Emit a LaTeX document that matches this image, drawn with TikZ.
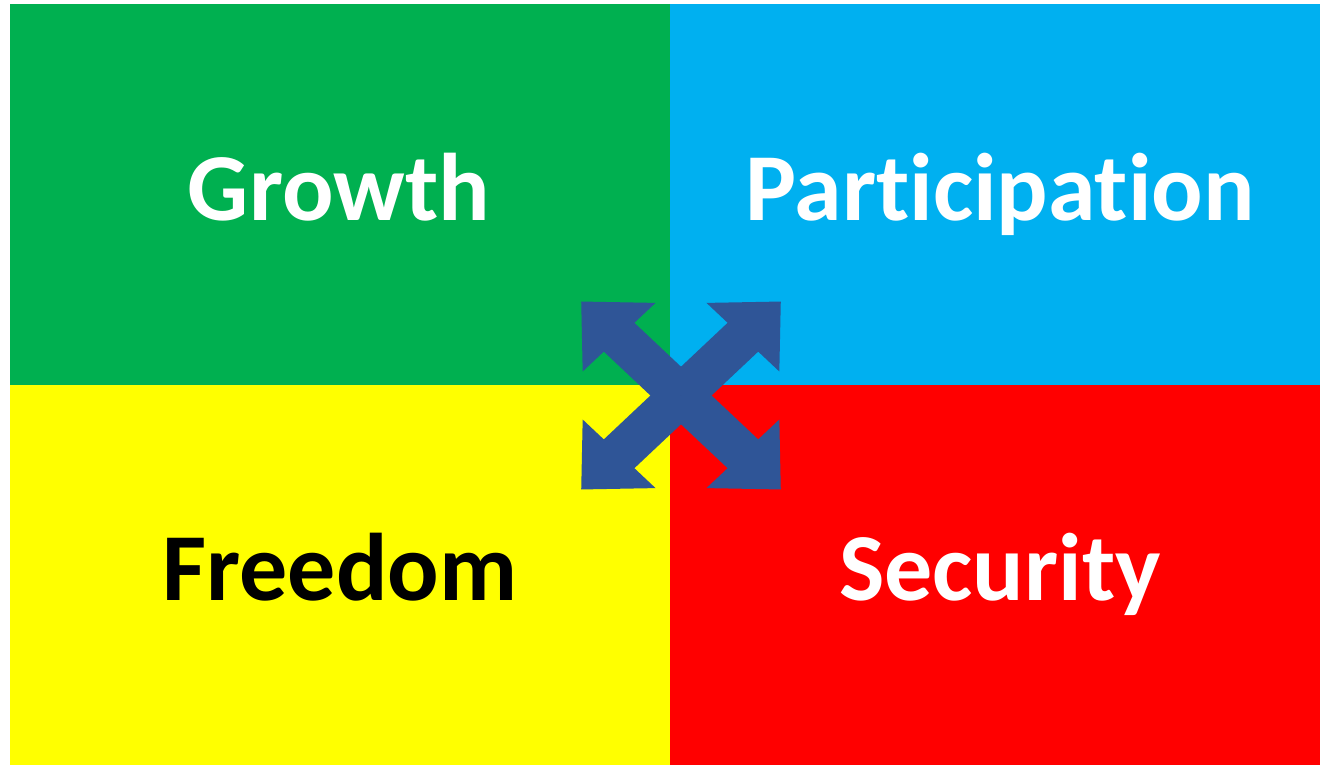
\documentclass[tikz,border=0pt]{standalone}
\usepackage{fontspec}
\setmainfont{Carlito}[RawFeature={-liga;-clig;-dlig;-calt}]
\usepackage{tikz}
\usetikzlibrary{positioning}

\definecolor{growthgreen}{HTML}{00B050}
\definecolor{partblue}{HTML}{00B0F0}
\definecolor{freeyellow}{HTML}{FFFF00}
\definecolor{secred}{HTML}{FF0000}
\definecolor{crossblue}{HTML}{2F5597}

\begin{document}
\begin{tikzpicture}[x=1pt,y=-1pt,
    quad/.style={rectangle,inner sep=0pt,outer sep=0pt,minimum width=660pt,minimum height=381pt},
    word/.style={font=\fontsize{96}{96}\selectfont\bfseries,text=white,anchor=base,inner sep=0pt}]
  \useasboundingbox (0,0) rectangle (1320,765);

  \node[quad,fill=growthgreen,anchor=north west] (growth) at (10,4) {};
  \node[quad,fill=partblue,minimum width=650pt,anchor=north west] (part) at (growth.north east) {};
  \node[quad,fill=freeyellow,minimum height=380pt,anchor=north west] (free) at (growth.south west) {};
  \node[quad,fill=secred,minimum width=650pt,minimum height=380pt,anchor=north west] (sec) at (part.south west) {};

  \node[word] (growthtext) at (339,220) {Growth};
  \node[word] (parttext) at (1000,220) {Participation};
  \node[word,text=black] (freetext) at (340,600) {Freedom};
  \node[word] (sectext) at (1000,600) {Security};

  % four-way arrow in the middle
  \begin{scope}[shift={(681,395.5)},xscale=1.03,yscale=0.97]
    \foreach \a in {45,135,225,315}
      \fill[crossblue,rotate=\a] (0,-21) -- (85,-21) -- (85,-50) -- (137,0)
        -- (85,50) -- (85,21) -- (0,21) -- cycle;
  \end{scope}
\end{tikzpicture}
\end{document}
